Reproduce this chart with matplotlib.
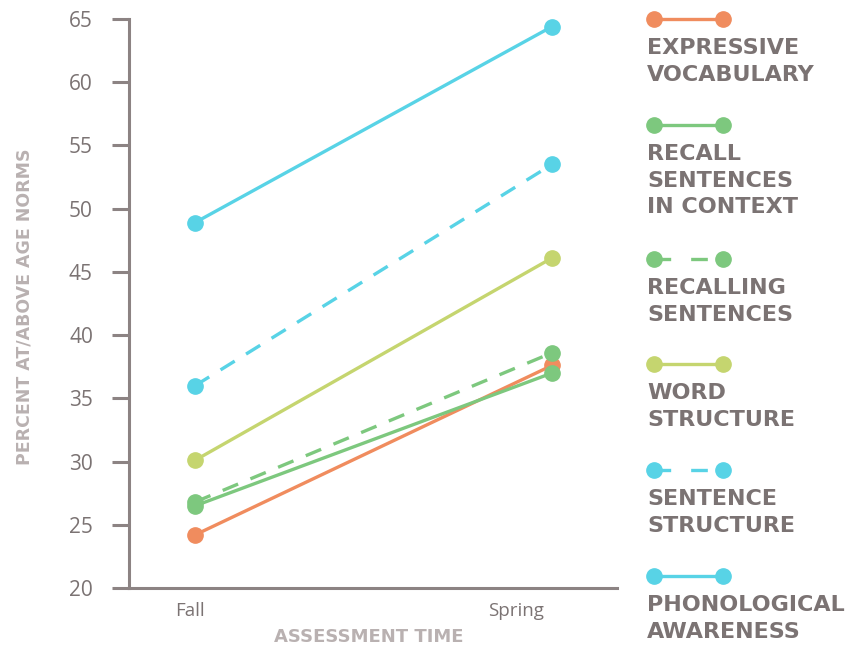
import matplotlib
matplotlib.use("Agg")
import matplotlib.pyplot as plt
from matplotlib.lines import Line2D

# data
times = ["Fall", "Spring"]
series = [
    "EXPRESSIVE\nVOCABULARY",
    "RECALL\nSENTENCES\nIN CONTEXT",
    "RECALLING\nSENTENCES",
    "WORD\nSTRUCTURE",
    "SENTENCE\nSTRUCTURE",
    "PHONOLOGICAL\nAWARENESS",
]
expressive_vocab = [24.2, 37.6]
recall_in_context = [26.5, 37.0]
recalling_sentences = [26.8, 38.6]
word_structure = [30.1, 46.1]
sentence_structure = [36.0, 53.5]
phonological = [48.9, 64.4]
values = [expressive_vocab, recall_in_context, recalling_sentences,
          word_structure, sentence_structure, phonological]
colors = ["#F08C5E", "#7DC87E", "#7DC87E", "#C5D56F", "#58D3E6", "#58D3E6"]
styles = ["-", "-", "--", "-", "--", "-"]
yticks = [20, 25, 30, 35, 40, 45, 50, 55, 60, 65]

TXT = "#7B7373"
LIGHT = "#B9B1B1"
SPINE = "#8C8383"

W, H = 850, 647
fig = plt.figure(figsize=(W / 100, H / 100), dpi=100)
ax = fig.add_axes([129 / W, 1 - 588 / H, (617 - 129) / W, (588 - 19) / H])

x = list(range(len(times)))
for vals, c, ls in zip(values, colors, styles):
    ax.plot(x, vals, color=c, ls=ls, lw=2.4, marker="o", ms=11,
            dashes=(5, 4) if ls == "--" else (None, None),
            solid_capstyle="round")

ax.set_xlim(-0.185, 1.182)
ax.set_ylim(20, 65)
ax.set_yticks(yticks)
# category labels sit a little left of the points in the original
ax.set_xticks([-0.014, 0.9])
ax.set_xticklabels(times)
for s in ["top", "right"]:
    ax.spines[s].set_visible(False)
for s in ["left", "bottom"]:
    ax.spines[s].set_color(SPINE)
    ax.spines[s].set_linewidth(2.2)
ax.tick_params(axis="y", length=12, width=2.2, color=SPINE, pad=14,
               labelsize=15, labelcolor=TXT)
ax.tick_params(axis="x", length=0, pad=10, labelsize=13.5, labelcolor=TXT)
for lab in ax.get_yticklabels() + ax.get_xticklabels():
    lab.set_family("Open Sans")

fig.text(25 / W, 1 - 307 / H, "PERCENT AT/ABOVE AGE NORMS", rotation=90,
         ha="center", va="center", color=LIGHT, fontsize=12.5,
         fontweight="bold", family="DejaVu Sans")
fig.text(369 / W, 1 - 637 / H, "ASSESSMENT TIME", ha="center", va="center",
         color=LIGHT, fontsize=13, fontweight="bold", family="DejaVu Sans")

# legend drawn at right
handle_y = [19, 125, 259, 364, 470, 576]
for lab, c, ls, hy in zip(series, colors, styles, handle_y):
    yy = 1 - hy / H
    fig.add_artist(Line2D([654 / W, 723 / W], [yy, yy], color=c, lw=2.4,
                          ls=ls, dashes=(5, 6) if ls == "--" else (None, None),
                          marker="o", ms=11, transform=fig.transFigure))
    fig.text(647 / W, 1 - (hy + 19) / H, lab, ha="left", va="top",
             color=TXT, fontsize=16, fontweight="bold", family="DejaVu Sans",
             linespacing=1.42)

fig.savefig("out.png", dpi=100)
